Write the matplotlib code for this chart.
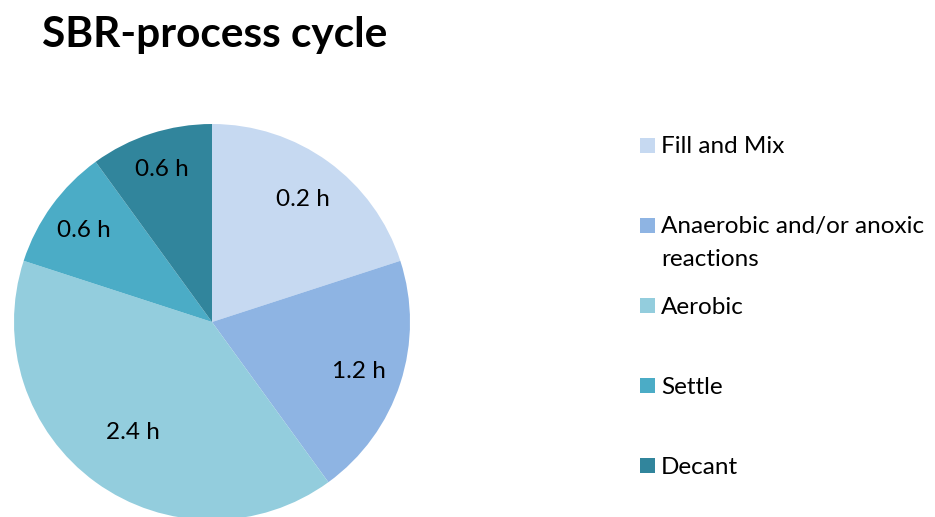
import matplotlib
matplotlib.use("Agg")
import matplotlib.pyplot as plt
from matplotlib.patches import Rectangle

plt.rcParams['font.family'] = ['Lato', 'DejaVu Sans']

# slice sizes as drawn, and the hour labels written on them
phases = ['Fill and Mix', 'Anaerobic and/or anoxic\nreactions', 'Aerobic', 'Settle', 'Decant']
shares = [20, 20, 40, 10, 10]
hour_labels = ['0.2 h', '1.2 h', '2.4 h', '0.6 h', '0.6 h']
colors = ['#C6D9F1', '#8EB4E3', '#93CDDD', '#4BACC6', '#31859C']

W, H = 935, 517
fig = plt.figure(figsize=(W / 100, H / 100), dpi=100)

# pie centre ~ (212, 322) px, radius ~198 px
cx, cy, r = 212, 322, 198
ax = fig.add_axes([(cx - r) / W, (H - cy - r) / H, 2 * r / W, 2 * r / H])
wedges, texts = ax.pie(shares, colors=colors, startangle=90, counterclock=False,
                       labels=hour_labels, labeldistance=0.78,
                       wedgeprops=dict(linewidth=0),
                       textprops=dict(fontsize=17.5, ha='center', va='center_baseline'))
# Excel put the big slice label a bit closer in
dist = [0.78, 0.78, 0.68, 0.8, 0.82]
for t, d in zip(texts, dist):
    x, y = t.get_position()
    k = d / 0.78
    t.set_position((x * k, y * k))
ax.set_xlim(-1, 1)
ax.set_ylim(-1, 1)
ax.set_aspect('equal')
ax.axis('off')

fig.text(42 / W, 1 - 47 / H, 'SBR-process cycle', fontsize=30.5, fontweight='bold',
         ha='left', va='baseline')

# legend, drawn by hand so the two-line entry keeps its box on the first line
y0 = 145
for i, (name, c) in enumerate(zip(phases, colors)):
    yc = y0 + 80 * i
    fig.patches.append(Rectangle((640 / W, 1 - (yc + 7.5) / H), 15 / W, 15 / H,
                                 transform=fig.transFigure, color=c, linewidth=0))
    for j, line in enumerate(name.split('\n')):
        fig.text(661 / W, 1 - (yc + 32 * j) / H, line, fontsize=17.5,
                 ha='left', va='center_baseline')

fig.savefig('out.png', dpi=100)
